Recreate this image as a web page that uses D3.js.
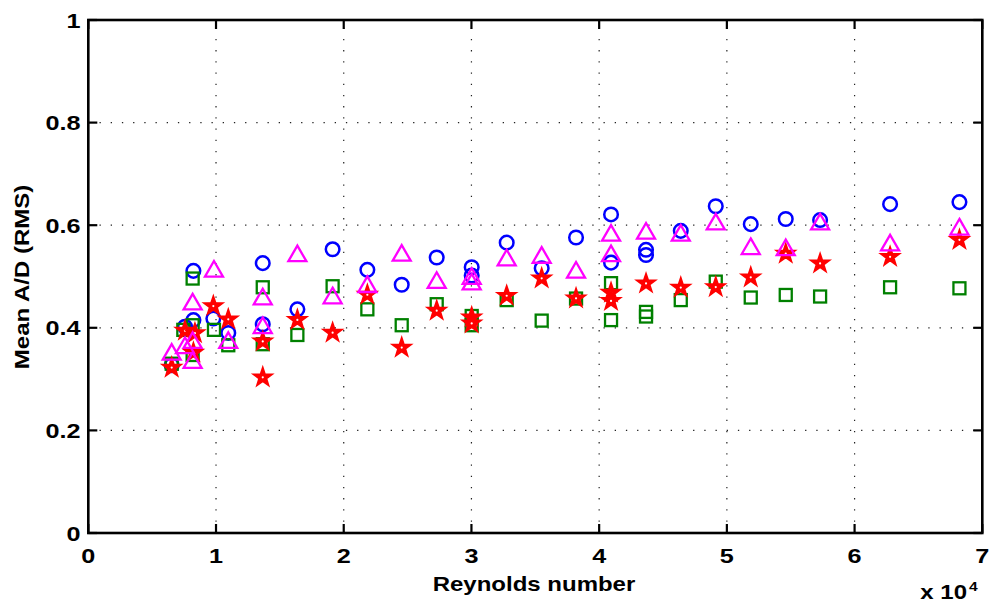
<!DOCTYPE html>
<html>
<head>
<meta charset="utf-8">
<script src="https://cdn.jsdelivr.net/npm/d3@7"></script>
<style>
  html, body { margin: 0; padding: 0; background: #fff; }
  svg { display: block; }
  text { font-family: "Liberation Sans", Arial, Helvetica, sans-serif; font-weight: bold; fill: #000; }
</style>
</head>
<body>
<svg id="chart" width="990" height="611"></svg>
<script>
// Reynolds numbers and mean amplitude ratios, one pair of arrays per marker set
const reCircle = [6530, 7570, 8230, 8230, 9790, 10960, 13660, 13660, 16370, 19130, 21850, 24540, 27280, 30020, 30020, 32760, 35500, 38190, 40930, 40930, 43670, 43670, 46390, 49130, 51870, 54610, 57300, 62780, 68210];
const adCircle = [0.327, 0.402, 0.511, 0.415, 0.418, 0.390, 0.526, 0.407, 0.436, 0.553, 0.513, 0.484, 0.537, 0.518, 0.502, 0.566, 0.516, 0.576, 0.621, 0.527, 0.552, 0.542, 0.589, 0.637, 0.602, 0.612, 0.610, 0.641, 0.645];

const reSquare = [6530, 7440, 8170, 8170, 8170, 9840, 10960, 13660, 13660, 16370, 19130, 21850, 24540, 27280, 30020, 30020, 32760, 35500, 38190, 40930, 40930, 43670, 43670, 46390, 49130, 51870, 54610, 57300, 62780, 68210];
const adSquare = [0.330, 0.396, 0.496, 0.405, 0.347, 0.396, 0.366, 0.479, 0.368, 0.386, 0.481, 0.436, 0.405, 0.446, 0.423, 0.405, 0.454, 0.414, 0.457, 0.487, 0.415, 0.431, 0.422, 0.454, 0.490, 0.459, 0.464, 0.461, 0.479, 0.477];

const reTriangle = [6530, 7570, 8170, 8170, 8170, 9840, 10960, 13660, 13660, 16370, 19130, 21850, 24540, 27280, 30020, 30020, 32760, 35500, 38190, 40930, 40930, 43670, 46390, 49130, 51870, 54610, 57300, 62780, 68210];
const adTriangle = [0.353, 0.366, 0.451, 0.376, 0.337, 0.515, 0.376, 0.461, 0.405, 0.545, 0.463, 0.485, 0.546, 0.493, 0.501, 0.490, 0.537, 0.542, 0.513, 0.585, 0.545, 0.589, 0.585, 0.607, 0.559, 0.557, 0.607, 0.566, 0.597];

const reStar = [6530, 7570, 8350, 8230, 9790, 10960, 13660, 13660, 16370, 19130, 21850, 24540, 27280, 30020, 30020, 32760, 35500, 38190, 40930, 40930, 43670, 46390, 49130, 51870, 54610, 57300, 62780, 68210];
const adStar = [0.324, 0.396, 0.391, 0.353, 0.444, 0.418, 0.375, 0.305, 0.417, 0.392, 0.466, 0.363, 0.435, 0.422, 0.410, 0.464, 0.498, 0.459, 0.470, 0.454, 0.488, 0.480, 0.481, 0.500, 0.546, 0.527, 0.540, 0.573];

const xTicks = [0, 10000, 20000, 30000, 40000, 50000, 60000, 70000];
const yTicks = [0, 0.2, 0.4, 0.6, 0.8, 1];
const xLabel = "Reynolds number";
const yLabel = "Mean A/D (RMS)";

(function draw() {
  // plot frame
  const plotL = 88.3, plotR = 982.3, plotT = 20, plotB = 533;
  const svg = d3.select("#chart");
  const x = d3.scaleLinear().domain([0, 70000]).range([plotL, plotR]);
  const y = d3.scaleLinear().domain([0, 1]).range([plotB, plotT]);
  const stretch = 1.2;   // wide bold face
  const tickLen = 9;

  // dotted grid
  const grid = svg.append("g").attr("stroke", "#222").attr("stroke-width", 1.2)
    .attr("stroke-dasharray", "1.3,9.9");
  grid.selectAll("line.gx").data(xTicks.slice(1, -1)).join("line").attr("class", "gx")
    .attr("x1", d => x(d)).attr("x2", d => x(d)).attr("y1", plotB).attr("y2", plotT);
  grid.selectAll("line.gy").data(yTicks.slice(1, -1)).join("line").attr("class", "gy")
    .attr("y1", d => y(d)).attr("y2", d => y(d)).attr("x1", plotL).attr("x2", plotR);

  // markers
  const markers = svg.append("g").attr("fill", "none");
  const pairs = (xs, ys) => xs.map((v, i) => [v, ys[i]]);

  markers.append("g").attr("stroke", "#0000ff").attr("stroke-width", 2.5)
    .selectAll("circle").data(pairs(reCircle, adCircle)).join("circle")
    .attr("cx", d => x(d[0])).attr("cy", d => y(d[1])).attr("r", 6.8);

  markers.append("g").attr("stroke", "#008000").attr("stroke-width", 2.3)
    .selectAll("rect").data(pairs(reSquare, adSquare)).join("rect")
    .attr("x", d => x(d[0]) - 6).attr("y", d => y(d[1]) - 6).attr("width", 12).attr("height", 12);

  // heavy-stroked pentagram: the thick outline closes up the arms, leaving a pinhole centre
  const starPath = (() => {
    const R = 10, r = 3.9, pts = [];
    for (let k = 0; k < 10; k++) {
      const a = -Math.PI / 2 + k * Math.PI / 5;
      const rad = k % 2 === 0 ? R : r;
      pts.push([rad * Math.cos(a), rad * Math.sin(a) + 0.8]);
    }
    return "M" + pts.map(p => p.join(",")).join("L") + "Z";
  })();
  const stars = markers.append("g")
    .selectAll("g").data(pairs(reStar, adStar)).join("g")
    .attr("transform", d => `translate(${x(d[0])},${y(d[1])})`);
  stars.append("path").attr("d", starPath).attr("fill", "#ff0000")
    .attr("stroke", "#ff0000").attr("stroke-width", 1.6).attr("stroke-linejoin", "miter");
  stars.append("circle").attr("cy", 0.8).attr("r", 1.1).attr("fill", "#fff");

  const triPath = "M0,-7.8L9,7.8L-9,7.8Z";
  markers.append("g").attr("stroke", "#ff00ff").attr("stroke-width", 2.3)
    .selectAll("path").data(pairs(reTriangle, adTriangle)).join("path")
    .attr("transform", d => `translate(${x(d[0])},${y(d[1])})`).attr("d", triPath);

  // inward tick marks on all four sides
  const ticks = svg.append("g").attr("stroke", "#000").attr("stroke-width", 2.2);
  xTicks.forEach(t => {
    ticks.append("line").attr("x1", x(t)).attr("x2", x(t)).attr("y1", plotB).attr("y2", plotB - tickLen);
    ticks.append("line").attr("x1", x(t)).attr("x2", x(t)).attr("y1", plotT).attr("y2", plotT + tickLen);
  });
  yTicks.forEach(t => {
    ticks.append("line").attr("y1", y(t)).attr("y2", y(t)).attr("x1", plotL).attr("x2", plotL + tickLen);
    ticks.append("line").attr("y1", y(t)).attr("y2", y(t)).attr("x1", plotR).attr("x2", plotR - tickLen);
  });

  // axes box
  svg.append("rect").attr("x", plotL).attr("y", plotT).attr("width", plotR - plotL).attr("height", plotB - plotT)
    .attr("fill", "none").attr("stroke", "#000").attr("stroke-width", 2.6);

  // tick labels
  const xFmt = d => d3.format("d")(d / 10000);
  svg.append("g").selectAll("text").data(xTicks).join("text")
    .attr("transform", d => `translate(${x(d)},563) scale(${stretch},1)`)
    .attr("text-anchor", "middle").attr("font-size", 21).text(xFmt);

  svg.append("g").selectAll("text").data(yTicks).join("text")
    .attr("transform", d => `translate(80.5,${y(d)}) scale(${stretch},1)`)
    .attr("dy", "0.36em").attr("text-anchor", "end").attr("font-size", 21)
    .text(d => d3.format("")(d));

  // axis titles
  svg.append("text").attr("transform", `translate(534,591) scale(${stretch},1)`)
    .attr("text-anchor", "middle").attr("font-size", 20).text(xLabel);
  svg.append("text").attr("transform", `translate(29,277) rotate(-90) scale(${stretch},1)`)
    .attr("text-anchor", "middle").attr("font-size", 20).text(yLabel);

  // exponent note
  svg.append("text").attr("transform", `translate(967,599) scale(${stretch},1)`)
    .attr("text-anchor", "end").attr("font-size", 20).text("x 10");
  svg.append("text").attr("transform", `translate(969,591) scale(${stretch},1)`)
    .attr("font-size", 13).text("4");
})();
</script>
</body>
</html>
